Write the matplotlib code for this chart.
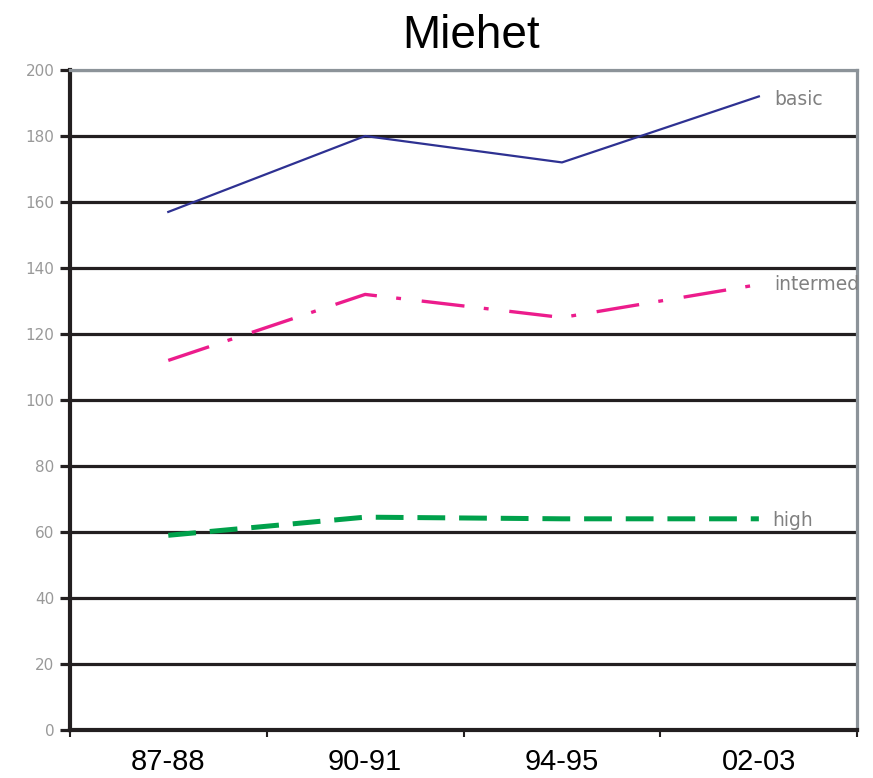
import matplotlib.pyplot as plt

# Данные
periods = ['87-88', '90-91', '94-95', '02-03']
basic = [157, 180, 172, 192]
intermed = [112, 132, 125, 135]
high = [59, 64.5, 64, 64]
y_ticks = [0, 20, 40, 60, 80, 100, 120, 140, 160, 180, 200]

plt.rcParams['font.family'] = ['Liberation Sans', 'DejaVu Sans']
plt.rcParams['lines.scale_dashes'] = False

fig = plt.figure(figsize=(8.73, 7.78), dpi=100)
ax = fig.add_axes([0.080, 0.0617, 0.902, 0.8483])

x = list(range(len(periods)))

# Сетка
for v in y_ticks[1:-1]:
    ax.axhline(v, color='#231f20', lw=2.3, zorder=1)
ax.axhline(200, color='#8c9399', lw=2.3, zorder=1)

ax.plot(x, basic, color='#2e3192', lw=1.6, zorder=3)
ax.plot(x, intermed, color='#ec1c8c', lw=2.4, dashes=(31, 14, 3.5, 15), zorder=3)
ax.plot(x, high, color='#00a14b', lw=3.6, dashes=(20, 10), zorder=3)

# Подписи линий
label_style = dict(color='#808080', fontsize=13.5, family='DejaVu Sans',
                   va='center', ha='left', clip_on=False)
ax.text(3.08, 191, 'basic', **label_style)
ax.text(3.08, 135, 'intermed', **label_style)
ax.text(3.07, 63.5, 'high', **label_style)

ax.set_xlim(-0.5, 3.5)
ax.set_ylim(0, 200)
ax.set_yticks(y_ticks)
ax.set_yticklabels([str(v) for v in y_ticks], color='#999999', fontsize=11,
                   family='DejaVu Sans')
ax.tick_params(axis='y', length=7, width=2.3, color='#231f20', pad=4)

ax.set_xticks([-0.5, 0.5, 1.5, 2.5, 3.5])
ax.set_xticklabels([])
ax.tick_params(axis='x', which='major', length=5, width=1.5, color='#231f20')
ax.set_xticks(x, minor=True)
ax.set_xticklabels(periods, minor=True, fontsize=21)
ax.tick_params(axis='x', which='minor', length=0, pad=13)

for side in ['left', 'bottom']:
    ax.spines[side].set_color('#231f20')
    ax.spines[side].set_linewidth(3)
for side in ['top', 'right']:
    ax.spines[side].set_color('#8c9399')
    ax.spines[side].set_linewidth(2.3)

fig.suptitle('Miehet', fontsize=33, x=0.54, y=0.982, va='top')

fig.savefig('out.png', dpi=100)
